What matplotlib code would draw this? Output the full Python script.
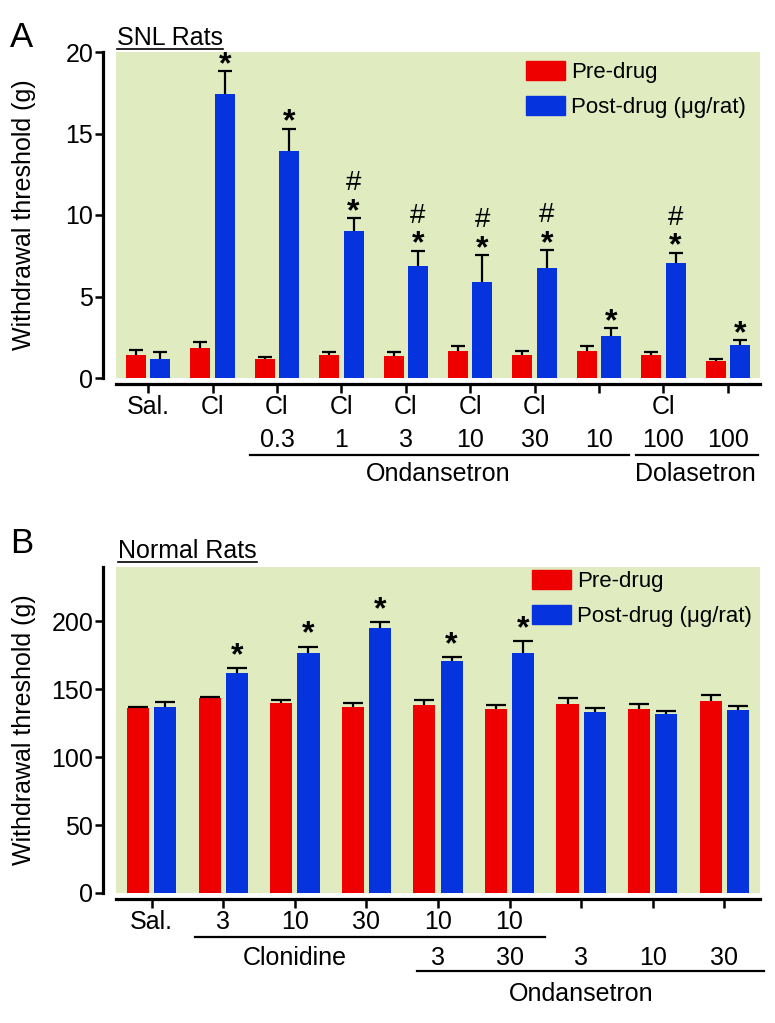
import matplotlib
matplotlib.use("Agg")
import matplotlib.pyplot as plt
import numpy as np
from matplotlib.patches import Patch
from matplotlib.lines import Line2D
from matplotlib.transforms import blended_transform_factory

plt.rcParams.update({
    "font.family": ["Liberation Sans", "DejaVu Sans"],
    "font.size": 18,
    "axes.spines.top": False,
    "axes.spines.right": False,
})

RED = "#EE0000"
BLUE = "#0533DD"
GREEN = "#E0EBC0"
PX = 0.72  # points per pixel at dpi=100

# --- Panel A: SNL rats ---
a_row1 = ["Sal.", "Cl", "Cl", "Cl", "Cl", "Cl", "Cl", "", "Cl", ""]
a_row2 = ["", "", "0.3", "1", "3", "10", "30", "10", "100", "100"]
a_pre = [1.41, 1.82, 1.15, 1.41, 1.35, 1.66, 1.41, 1.66, 1.39, 1.02]
a_pre_err = [0.31, 0.37, 0.16, 0.19, 0.25, 0.32, 0.25, 0.32, 0.21, 0.13]
a_post = [1.17, 17.42, 13.93, 9.02, 6.87, 5.91, 6.73, 2.58, 7.03, 2.00]
a_post_err = [0.43, 1.41, 1.37, 0.78, 0.94, 1.64, 1.12, 0.47, 0.66, 0.33]
a_marks = ["", "*", "*", "#*", "#*", "#*", "#*", "*", "#*", "*"]
a_groups = [("Ondansetron", 2, 7), ("Dolasetron", 8, 9)]

# --- Panel B: normal rats ---
b_row1 = ["Sal.", "3", "10", "30", "10", "10", "", "", ""]
b_row2 = ["", "", "", "", "3", "30", "3", "10", "30"]
b_pre = [136.3, 143.6, 139.9, 137.0, 138.4, 135.8, 139.2, 135.2, 141.1]
b_pre_err = [0.5, 1.0, 2.5, 3.2, 3.7, 2.9, 4.0, 4.0, 4.3]
b_post = [137.0, 161.6, 176.8, 195.3, 170.6, 176.8, 133.3, 132.1, 135.0]
b_post_err = [3.5, 3.9, 4.5, 4.2, 3.0, 8.6, 3.2, 1.9, 2.4]
b_marks = ["", "*", "*", "*", "*", "*", "", "", ""]
b_clonidine = ("Clonidine", 1, 5, 1, 3)   # label, line from/to, text centred on groups
b_ondansetron = ("Ondansetron", 4, 8)

W = 0.31
OFF = 0.19


def bars(ax, xs, vals, errs, color, label, capsize):
    ekw = dict(elinewidth=1.6, capthick=1.6, ecolor="black")
    c = ax.bar(xs, vals, W, color=color, yerr=[np.zeros(len(vals)), errs],
               capsize=capsize, error_kw=ekw, label=label, zorder=2)
    # one-sided error bars: hide the cap sitting on the bar top
    caps = c.errorbar.lines[1]
    caps[0].set_visible(False)
    return c


def panel(ax, pre, pre_err, post, post_err, marks, ymax, ystep, capsize, star_px):
    x = np.arange(len(pre))
    bars(ax, x - OFF, pre, pre_err, RED, "Pre-drug", capsize)
    bars(ax, x + OFF, post, post_err, BLUE, "Post-drug (\u03bcg/rat)", capsize)
    for i, m in enumerate(marks):
        top = post[i] + post_err[i]
        if "*" in m:
            ax.annotate("*", (i + OFF, top), xytext=(0, (star_px - 13) * PX),
                        textcoords="offset points", ha="center", va="baseline",
                        fontsize=23, fontweight="bold")
        if "#" in m:
            ax.annotate("#", (i + OFF, top), xytext=(0, (star_px + 17) * PX),
                        textcoords="offset points", ha="center", va="baseline",
                        fontsize=20)
    ax.set_facecolor(GREEN)
    ax.set_xlim(-0.5, len(pre) - 0.5)
    ax.set_ylim(0, ymax)
    ax.set_yticks(np.arange(0, ymax + 0.1 if ymax == 20 else 201, ystep))
    ax.spines["left"].set_position(("outward", 13 * PX))
    ax.spines["bottom"].set_position(("outward", 6 * PX))
    for s in ("left", "bottom"):
        ax.spines[s].set_linewidth(2.3)
    ax.tick_params(axis="y", length=6, width=1.8, pad=1, labelsize=18)
    ax.tick_params(axis="x", length=6.5, width=1.8, pad=1.5, labelsize=18)
    ax.set_xticks(x)
    ax.set_ylabel("Withdrawal threshold (g)", fontsize=18)
    ax.yaxis.set_label_coords(-0.124, 0.5)
    ax.legend(handles=[Patch(color=RED, label="Pre-drug"),
                       Patch(color=BLUE, label="Post-drug (\u03bcg/rat)")],
              loc="upper left", frameon=False, fontsize=16, borderpad=0,
              borderaxespad=0, handlelength=1.75, handleheight=0.95,
              handletextpad=0.28, labelspacing=0.55)


def row(ax, labels, px):
    for i, t in enumerate(labels):
        if t:
            ax.annotate(t, (i, 0), xycoords=("data", "axes fraction"),
                        xytext=(0, -px * PX), textcoords="offset points",
                        ha="center", va="center", fontsize=18)


def bracket(ax, x0, x1, px):
    tr = blended_transform_factory(ax.transData, ax.transAxes)
    y = -px / (ax.bbox.height)
    ax.add_line(Line2D([x0, x1], [y, y], transform=tr, color="black",
                       lw=1.6, clip_on=False))


fig = plt.figure(figsize=(7.75, 10.23), dpi=100)
axA = fig.add_axes([116 / 775, 1 - 378 / 1023, 644 / 775, 326 / 1023])
axB = fig.add_axes([116 / 775, 1 - 893 / 1023, 644 / 775, 326 / 1023])

panel(axA, a_pre, a_pre_err, a_post, a_post_err, a_marks, 20, 5, 4.7, 11)
axA.get_legend().set_bbox_to_anchor((0.637, 0.972))
axA.set_xticklabels(a_row1)
row(axA, a_row2, 62)
for name, g0, g1 in a_groups:
    bracket(axA, g0 - 0.42, g1 + 0.47, 77)
    axA.annotate(name, ((g0 + g1) / 2, 0), xycoords=("data", "axes fraction"),
                 xytext=(0, -96 * PX), textcoords="offset points",
                 ha="center", va="center", fontsize=18)

panel(axB, b_pre, b_pre_err, b_post, b_post_err, b_marks, 240, 50, 7.5, 17)
axB.get_legend().set_bbox_to_anchor((0.646, 0.99))
axB.set_xticklabels(b_row1)
row(axB, b_row2, 65)
name, g0, g1, t0, t1 = b_clonidine
bracket(axB, g0 - 0.4, g1 + 0.5, 44)
axB.annotate(name, ((t0 + t1) / 2, 0), xycoords=("data", "axes fraction"),
             xytext=(0, -65 * PX), textcoords="offset points",
             ha="center", va="center", fontsize=18)
name, g0, g1 = b_ondansetron
bracket(axB, g0 - 0.3, g1 + 0.55, 78)
axB.annotate(name, ((g0 + g1) / 2, 0), xycoords=("data", "axes fraction"),
             xytext=(0, -101 * PX), textcoords="offset points",
             ha="center", va="center", fontsize=18)

# panel letters and underlined titles
fig.text(10 / 775, 1 - 47 / 1023, "A", fontsize=25, va="baseline")
fig.text(10 / 775, 1 - 553 / 1023, "B", fontsize=25, va="baseline")
titles = [fig.text(117 / 775, 1 - 45 / 1023, "SNL Rats", fontsize=18, va="baseline"),
          fig.text(118 / 775, 1 - 558 / 1023, "Normal Rats", fontsize=18, va="baseline")]
fig.canvas.draw()
r = fig.canvas.get_renderer()
for t, uy in zip(titles, (49, 562)):
    bb = t.get_window_extent(r)
    fig.add_artist(Line2D([bb.x0 / 775, bb.x1 / 775], [1 - uy / 1023] * 2,
                          transform=fig.transFigure, color="black", lw=1.2))

fig.savefig("out.png", dpi=100)
